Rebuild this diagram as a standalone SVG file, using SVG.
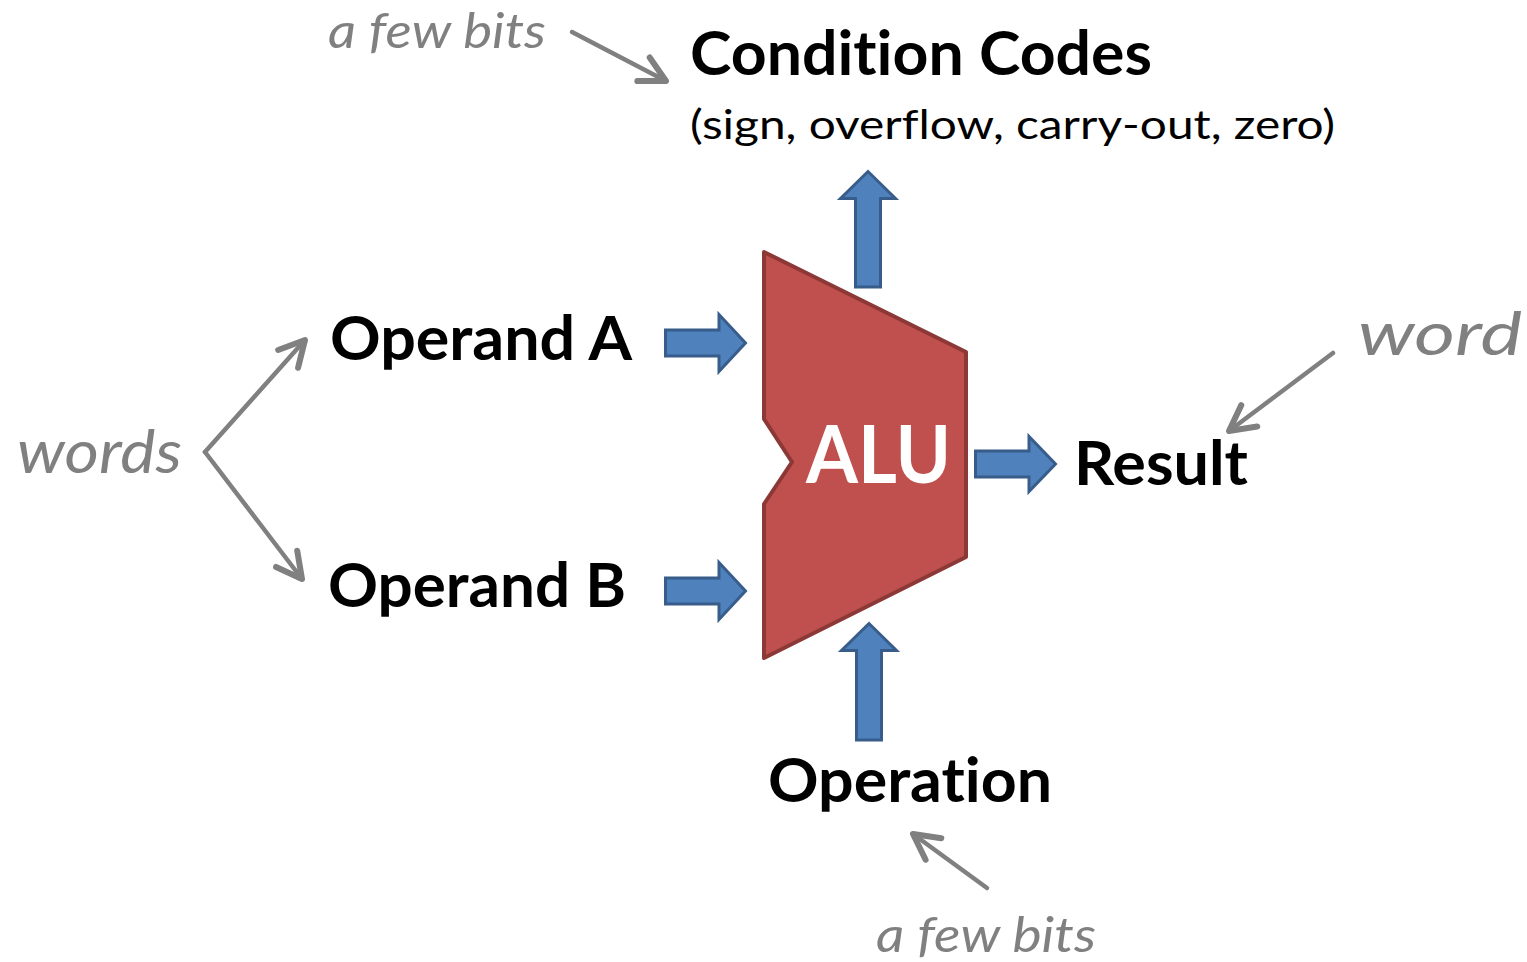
<svg xmlns="http://www.w3.org/2000/svg" width="1527" height="962" viewBox="0 0 1527 962">
<style>
text{font-variant-ligatures:none;font-feature-settings:"liga" 0,"clig" 0,"dlig" 0}
.lbl{font-family:Lato,"Open Sans",sans-serif;font-weight:bold;fill:#000}
.note{font-family:Lato,"Open Sans",sans-serif;font-style:italic;fill:#808080}
.sub{font-family:Lato,"Open Sans",sans-serif;fill:#000}
.blk{fill:#4F81BD;stroke:#385D8A;stroke-width:3;stroke-linejoin:miter}
.ptr{fill:none;stroke:#808080;stroke-width:4.5;stroke-linecap:round;stroke-linejoin:round}
</style>
<defs>
<marker id="chev" markerUnits="userSpaceOnUse" orient="auto" markerWidth="40" markerHeight="40" refX="0" refY="0" viewBox="-25 -15 30 30" overflow="visible">
<path d="M-19,-10 L0,0 L-19,10" fill="none" stroke="#808080" stroke-width="4.5" stroke-linecap="round" stroke-linejoin="round"/>
</marker>
</defs>
<rect width="1527" height="962" fill="#fff"/>
<g id="alu">
<polygon points="764,252 966,352 966,557 764,658 764,504 792,462 764,419" fill="#C0504D" stroke="#8C3836" stroke-width="4" stroke-linejoin="round"/>
<text class="lbl" x="806" y="483" font-size="80" textLength="145" lengthAdjust="spacingAndGlyphs" style="fill:#fff">ALU</text>
</g>
<g id="connectors">
<path class="blk" d="M665.5,330 L719,330 L719,314.5 L745.5,343 L719,371.5 L719,356 L665.5,356 Z"/>
<path class="blk" d="M665.5,578 L719,578 L719,562.5 L745.5,591 L719,619.5 L719,604 L665.5,604 Z"/>
<path class="blk" d="M975.5,451 L1029,451 L1029,436.5 L1055.5,464 L1029,491.5 L1029,477 L975.5,477 Z"/>
<path class="blk" d="M855.5,287 L855.5,198.5 L840.5,198.5 L868,171.5 L895.5,198.5 L880.5,198.5 L880.5,287 Z"/>
<path class="blk" d="M856.5,740 L856.5,650.5 L841.5,650.5 L869,623.5 L896.5,650.5 L881.5,650.5 L881.5,740 Z"/>
<path class="ptr" d="M572,32 L666,81" marker-end="url(#chev)"/>
<path class="ptr" d="M205,452 L305,340" marker-end="url(#chev)"/>
<path class="ptr" d="M205,452 L302,579" marker-end="url(#chev)"/>
<path class="ptr" d="M1333,353 L1229,431" marker-end="url(#chev)"/>
<path class="ptr" d="M987,888 L913,834" marker-end="url(#chev)"/>
</g>
<g id="condition-codes">
<text class="lbl" x="690" y="75" font-size="61" textLength="462" lengthAdjust="spacingAndGlyphs">Condition Codes</text>
<text class="sub" x="690" y="139" font-size="40" textLength="645" lengthAdjust="spacingAndGlyphs">(sign, overflow, carry-out, zero)</text>
</g>
<g id="operand-a"><text class="lbl" x="330" y="360" font-size="61" textLength="302" lengthAdjust="spacingAndGlyphs">Operand A</text></g>
<g id="operand-b"><text class="lbl" x="328" y="607" font-size="61" textLength="298" lengthAdjust="spacingAndGlyphs">Operand B</text></g>
<g id="result"><text class="lbl" x="1074" y="485" font-size="61" textLength="174" lengthAdjust="spacingAndGlyphs">Result</text></g>
<g id="operation"><text class="lbl" x="768" y="802" font-size="61" textLength="284" lengthAdjust="spacingAndGlyphs">Operation</text></g>
<g id="note-words"><text class="note" x="17" y="473" font-size="60" textLength="165" lengthAdjust="spacingAndGlyphs">words</text></g>
<g id="note-word"><text class="note" x="1358" y="355" font-size="60" textLength="164" lengthAdjust="spacingAndGlyphs">word</text></g>
<g id="note-bits-top"><text class="note" x="328" y="48" font-size="49" textLength="218" lengthAdjust="spacingAndGlyphs">a few bits</text></g>
<g id="note-bits-bottom"><text class="note" x="876" y="952" font-size="49" textLength="220" lengthAdjust="spacingAndGlyphs">a few bits</text></g>
</svg>
